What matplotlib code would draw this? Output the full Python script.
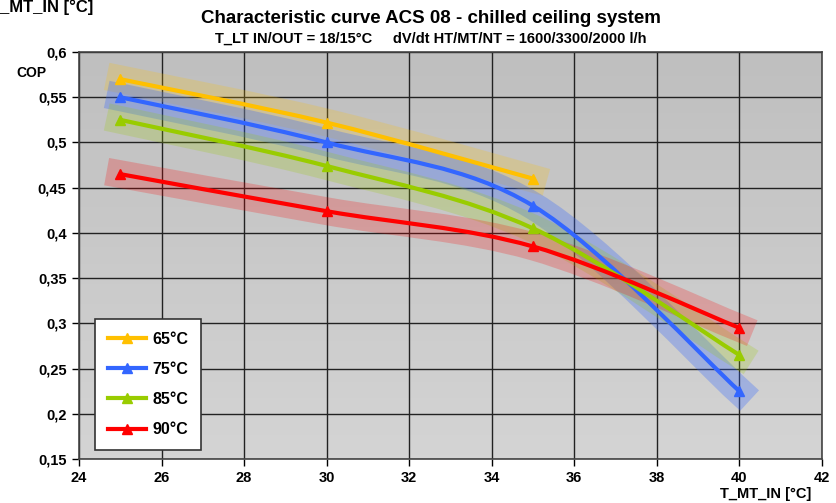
import numpy as np
import matplotlib
matplotlib.use("Agg")
import matplotlib.pyplot as plt
from matplotlib.path import Path
from matplotlib.patches import PathPatch

plt.rcParams['font.family'] = ['Liberation Sans Narrow', 'Liberation Sans', 'DejaVu Sans']
plt.rcParams['font.weight'] = 'bold'

# data
x_65 = [25, 30, 35]
cop_65 = [0.57, 0.522, 0.46]
x_all = [25, 30, 35, 40]
cop_75 = [0.55, 0.50, 0.43, 0.225]
cop_85 = [0.525, 0.474, 0.405, 0.265]
cop_90 = [0.465, 0.424, 0.385, 0.295]

labels = ['65°C', '75°C', '85°C', '90°C']
colors = ['#FFC000', '#3366FF', '#99CC00', '#FF0000']
band_alpha = [0.22, 0.3, 0.22, 0.22]
series = [(x_65, cop_65), (x_all, cop_75), (x_all, cop_85), (x_all, cop_90)]

x_ticks = list(range(24, 43, 2))
y_ticks = [0.15, 0.2, 0.25, 0.3, 0.35, 0.4, 0.45, 0.5, 0.55, 0.6]

fig = plt.figure(figsize=(8.37, 5.03), dpi=100)
ax = fig.add_axes([0.0944, 0.0875, 0.8876, 0.809])
ax.set_xlim(24, 42)
ax.set_ylim(0.15, 0.6)

# gray gradient plot area
grad = np.linspace(0, 1, 100).reshape(-1, 1)
ax.imshow(grad, extent=[24, 42, 0.15, 0.6], aspect='auto', origin='upper',
          cmap=matplotlib.colors.LinearSegmentedColormap.from_list('g', ['#bfbfbf', '#d4d4d4']),
          zorder=0)

ax.set_xticks(x_ticks)
ax.set_yticks(y_ticks)
ax.set_yticklabels([('%g' % v).replace('.', ',') for v in y_ticks])
ax.grid(True, color='#222222', linewidth=1.0, zorder=1)
ax.tick_params(direction='out', length=5, width=1, labelsize=10.5, pad=4)
for s in ax.spines.values():
    s.set_color('#444444')
    s.set_linewidth(1.2)


def smooth_path(xs, ys):
    # Excel-like smoothed line as cubic bezier, computed in axis-normalised space
    sx = 18.0
    sy = 0.45
    pts = np.column_stack([np.array(xs) / sx, np.array(ys) / sy])
    n = len(pts)
    verts = [pts[0]]
    codes = [Path.MOVETO]
    for i in range(n - 1):
        p0 = pts[i - 1] if i > 0 else pts[i]
        p1 = pts[i]
        p2 = pts[i + 1]
        p3 = pts[i + 2] if i + 2 < n else pts[i + 1]
        c1 = p1 + (p2 - p0) / 6.0
        c2 = p2 - (p3 - p1) / 6.0
        verts += [c1, c2, p2]
        codes += [Path.CURVE4] * 3
    verts = np.array(verts) * [sx, sy]
    return Path(verts, codes)


for (xs, ys), c, a in zip(series, colors, band_alpha):
    p = smooth_path(xs, ys)
    band = PathPatch(p, facecolor='none', edgecolor=c, linewidth=20, alpha=a,
                     capstyle='projecting', joinstyle='round', zorder=2)
    ax.add_patch(band)

for (xs, ys), c, lab in zip(series, colors, labels):
    p = smooth_path(xs, ys)
    ax.add_patch(PathPatch(p, facecolor='none', edgecolor=c, linewidth=3,
                           capstyle='round', zorder=4))
    ax.plot(xs, ys, linestyle='none', marker='^', markersize=7, color=c, zorder=5)
    ax.plot([], [], color=c, linewidth=3, marker='^', markersize=7, label=lab)

leg = ax.legend(loc='lower left', bbox_to_anchor=(0.0215, 0.022), borderaxespad=0,
                fontsize=11.5, frameon=True, fancybox=False, framealpha=1,
                edgecolor='#333333', handlelength=2.4, labelspacing=0.95,
                borderpad=0.8, handletextpad=0.4)
leg.get_frame().set_linewidth(1.2)
leg.set_zorder(10)

fig.text(0.515, 0.963, 'Characteristic curve ACS 08 - chilled ceiling system',
         ha='center', va='center', fontsize=13.5, fontweight='bold')
fig.text(0.515, 0.924, 'T_LT IN/OUT = 18/15°C     dV/dt HT/MT/NT = 1600/3300/2000 l/h',
         ha='center', va='center', fontsize=10.5, fontweight='bold')
fig.text(-0.012, 0.985, 'T_MT_IN [°C]', ha='left', va='center', fontsize=12, fontweight='bold')
fig.text(0.02, 0.855, 'COP', ha='left', va='center', fontsize=10, fontweight='bold')
fig.text(0.915, 0.018, 'T_MT_IN [°C]', ha='center', va='center', fontsize=10.5, fontweight='bold')

fig.savefig('out.png', dpi=100)
